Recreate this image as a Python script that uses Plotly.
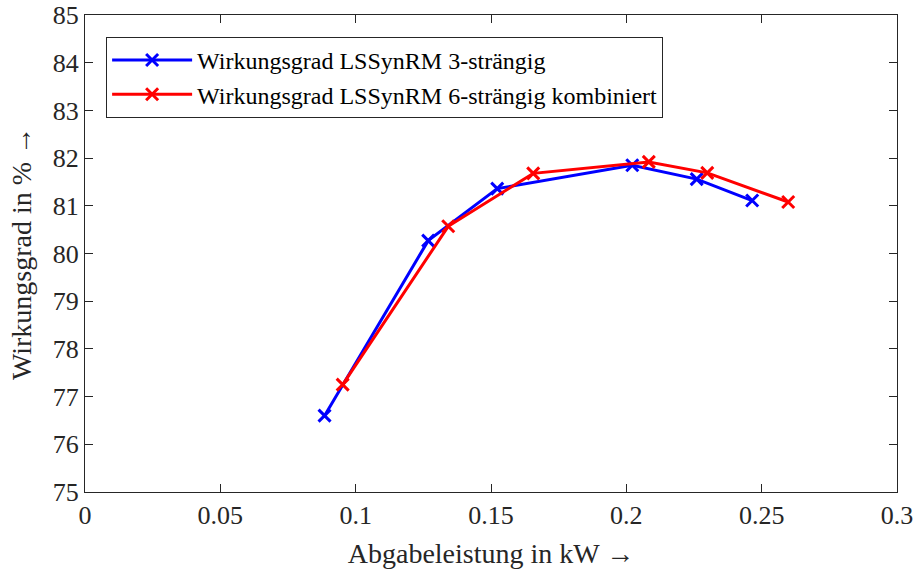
import plotly.graph_objects as go

x_3 = [0.0885, 0.1268, 0.1523, 0.2022, 0.2260, 0.2465]
y_3 = [76.60, 80.27, 81.36, 81.85, 81.56, 81.11]
x_6 = [0.0952, 0.1342, 0.1656, 0.2083, 0.2299, 0.2598]
y_6 = [77.25, 80.57, 81.68, 81.92, 81.69, 81.08]
name_3 = "Wirkungsgrad LSSynRM 3-strängig"
name_6 = "Wirkungsgrad LSSynRM 6-strängig kombiniert"
x_ticks = [0, 0.05, 0.1, 0.15, 0.2, 0.25, 0.3]
x_labels = ["0", "0.05", "0.1", "0.15", "0.2", "0.25", "0.3"]
y_ticks = list(range(75, 86))

font = "Liberation Serif"
fig = go.Figure()
fig.add_trace(go.Scatter(x=x_3, y=y_3, name=name_3, mode="lines+markers",
                         line=dict(color="#0000ff", width=3),
                         marker=dict(symbol="x-thin", size=12, line=dict(color="#0000ff", width=3))))
fig.add_trace(go.Scatter(x=x_6, y=y_6, name=name_6, mode="lines+markers",
                         line=dict(color="#ff0000", width=3),
                         marker=dict(symbol="x-thin", size=12, line=dict(color="#ff0000", width=3))))

axis_common = dict(showline=True, linecolor="#262626", linewidth=1.3, mirror="ticks",
                   ticks="inside", ticklen=8, tickwidth=1.3, tickcolor="#262626",
                   showgrid=False, zeroline=False, automargin=False,
                   tickfont=dict(family=font, size=26, color="#262626"))
fig.update_xaxes(range=[0, 0.3], tickvals=x_ticks, ticktext=x_labels,
                 title=dict(text="Abgabeleistung in kW →", font=dict(family=font, size=28, color="#262626"), standoff=14),
                 **axis_common)
fig.update_yaxes(range=[75, 85], tickvals=y_ticks,
                 title=dict(text="Wirkungsgrad in % →", font=dict(family=font, size=28, color="#262626"), standoff=12),
                 **axis_common)
fig.update_layout(
    width=914, height=574,
    margin=dict(l=85, r=17, t=15, b=82, autoexpand=False),
    paper_bgcolor="white", plot_bgcolor="white",
    font=dict(family=font, color="#262626"),
    legend=dict(x=0.026, y=0.954, xanchor="left", yanchor="top",
                bgcolor="white", bordercolor="#262626", borderwidth=1,
                font=dict(family=font, size=24, color="#000000"),
                itemwidth=80, tracegroupgap=0),
    showlegend=True,
)
fig.write_html("out.html")
